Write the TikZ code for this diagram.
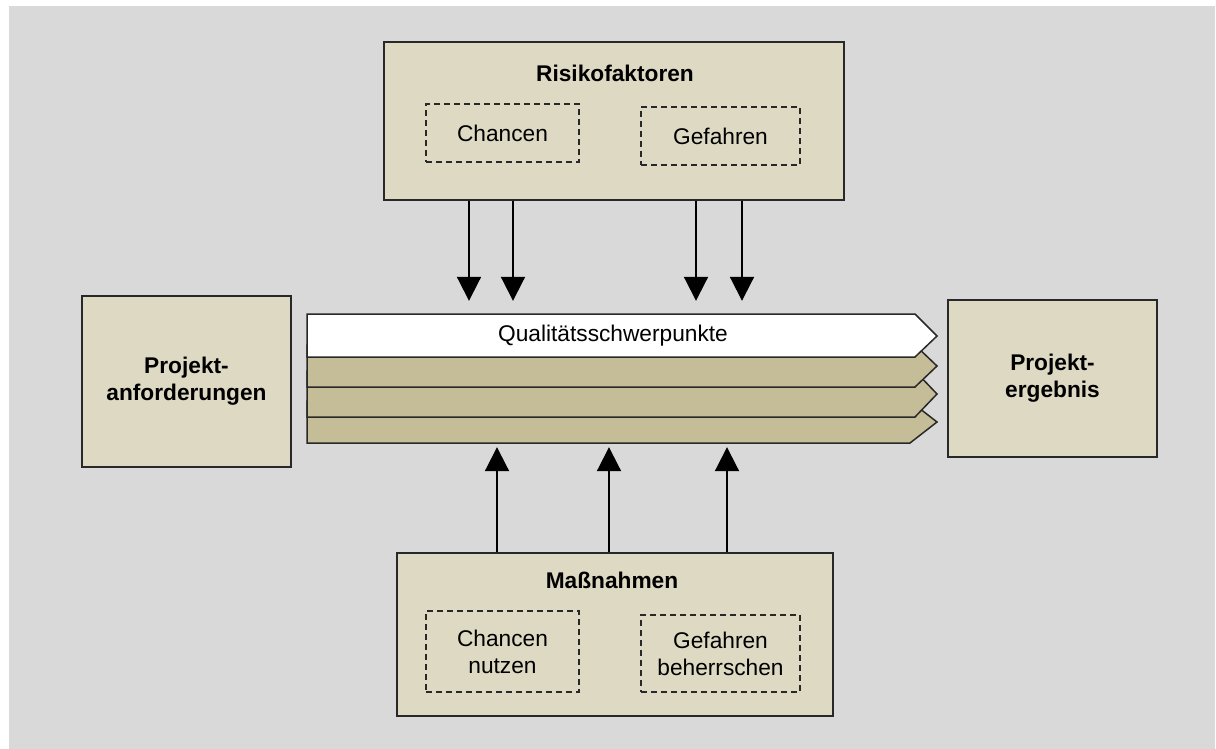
\documentclass[tikz,border=0pt]{standalone}
\usepackage{fontspec}
\setmainfont{Liberation Sans}
\usetikzlibrary{arrows.meta,positioning}
\tikzset{
  >=Stealth,
  every node/.append style={font=\fontsize{22.7}{27}\selectfont},
}

\begin{document}
\begin{tikzpicture}[
    x=1pt, y=-1pt,
    box/.style={
        rectangle,
        draw=framegray,
        line width=2pt,
        fill=boxbeige,
        inner sep=0pt,
        align=center,
        font=\fontsize{22.7}{27}\selectfont\bfseries
    },
    subbox/.style={
        rectangle,
        draw=framegray,
        line width=1.5pt,
        dash pattern=on 6pt off 4pt,
        inner sep=0pt,
        align=center
    },
    title/.style={font=\fontsize{22.7}{27}\selectfont\bfseries},
    band/.style={draw=framegray, line width=1.5pt, line join=miter},
    arrow/.style={
        -{Triangle[width=24pt,length=24pt]},
        line width=2pt,
        draw=black
    }
]
% Color definitions
\definecolor{bggray}{RGB}{217,217,217}
\definecolor{boxbeige}{RGB}{221,217,195}
\definecolor{bandkhaki}{RGB}{196,189,151}
\definecolor{framegray}{RGB}{40,40,40}

% Background
\useasboundingbox (0,0) rectangle (1216,749);
\fill[white] (0,0) rectangle (1216,749);
\fill[bggray] (9,6) rectangle (1215,749);

% Outer boxes
\node[box, minimum width=460pt, minimum height=158pt] (risk) at (614,121) {};
\node[title] (risktitle) at (615,73) {Risikofaktoren};
\node[subbox, minimum width=153pt, minimum height=58pt] (chancen) at (502.5,133) {Chancen};
\node[subbox, minimum width=159pt, minimum height=58pt] (gefahren) at (720.5,136) {Gefahren};

\node[box, minimum width=209pt, minimum height=171pt] (req) at (186.5,381.5) {Projekt-\\anforderungen};
\node[box, minimum width=209pt, minimum height=157pt] (res) at (1052.5,378.5) {Projekt-\\ergebnis};

\node[box, minimum width=436pt, minimum height=163pt] (meas) at (615,634.5) {};
\node[title] (meastitle) at (612,580) {Maßnahmen};
\node[subbox, minimum width=153pt, minimum height=81pt] (nutzen) at (502.5,651.5) {Chancen\\nutzen};
\node[subbox, minimum width=159pt, minimum height=77pt] (beherrschen) at (720.5,653.5) {Gefahren\\beherrschen};

% Quality stack
\node[inner sep=0pt, minimum width=608pt, minimum height=129pt] (stack) at (611,378.5) {};
\filldraw[band, fill=bandkhaki] (307,401) -- (910,401) -- (937,422) -- (910,443) -- (307,443) -- cycle;
\filldraw[band, fill=bandkhaki] (307,371) -- (915,371) -- (937,394) -- (915,417) -- (307,417) -- cycle;
\filldraw[band, fill=bandkhaki] (307,345) -- (915,345) -- (937,366) -- (915,387) -- (307,387) -- cycle;
\filldraw[band, fill=white] (307,314) -- (915,314) -- (937,336) -- (915,357) -- (307,357) -- cycle;
\node (qual) at (613,336) {Qualitätsschwerpunkte};

% Flow arrows
\foreach \ax in {469,513,696,742}
  \draw[arrow, shorten >=13pt] (\ax,0 |- risk.south) -- (\ax,0 |- stack.north);
\foreach \ax in {497,609,727}
  \draw[arrow, shorten >=4pt] (\ax,0 |- meas.north) -- (\ax,0 |- stack.south);
\end{tikzpicture}
\end{document}
